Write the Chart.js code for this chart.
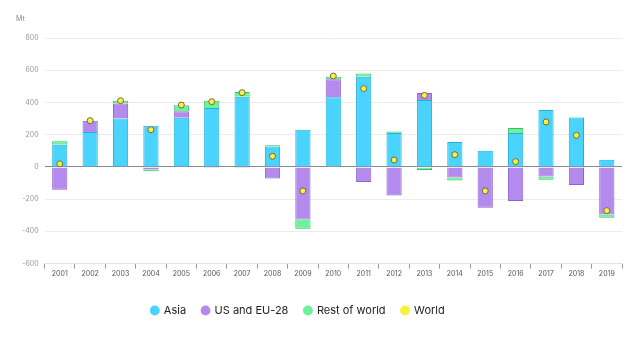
<!DOCTYPE html>
<html>
<head>
<meta charset="utf-8">
<script src="https://cdn.jsdelivr.net/npm/chart.js@4.4.1/dist/chart.umd.min.js"></script>
<style>
  html, body { margin: 0; padding: 0; background: #fff; }
  #wrap { width: 640px; height: 342px; position: relative; }
</style>
</head>
<body>
<div id="wrap"><canvas id="chart"></canvas></div>
<script>
// Annual change in emissions, Mt
const years = ['2001','2002','2003','2004','2005','2006','2007','2008','2009','2010',
               '2011','2012','2013','2014','2015','2016','2017','2018','2019'];
const asia      = [138, 217, 300, 256, 305, 366, 436, 126, 231, 432, 560, 211, 415, 155, 101, 211, 353, 306, 45];
const usEu      = [-141, 70, 93, -15, 40, -6, -6, -72, -327, 112, -93, -178, 44, -66, -254, -211, -60, -112, -296];
const restWorld = [21, 0, 18, -12, 38, 45, 29, 8, -57, 16, 19, 8, -19, -19, 0, 31, -19, 2, -20];
const world     = [19, 287, 411, 231, 384, 405, 461, 66, -149, 564, 486, 43, 444, 76, -149, 33, 279, 196, -271];
const yTicks    = [-600, -400, -200, 0, 200, 400, 600, 800];

// small "Mt" unit label over the y axis
const unitLabel = {
    id: 'unitLabel',
    afterDraw(chart) {
        const ctx = chart.ctx;
        ctx.save();
        ctx.font = '7px Inter, sans-serif';
        ctx.fillStyle = '#888';
        ctx.textBaseline = 'middle';
        ctx.fillText('Mt', 16, 19);
        ctx.restore();
    }
};

// the legend in the original sits a bit left of centre
const legendShift = {
    id: 'legendShift',
    afterLayout(chart) {
        if (chart.legend) {
            chart.legend.left -= 21;
            chart.legend.right -= 21;
        }
    }
};

const ctx = document.getElementById('chart').getContext('2d');
new Chart(ctx, {
    data: {
        labels: years,
        datasets: [
            {
                type: 'bar', label: 'Asia', data: asia, stack: 'regions', order: 2,
                backgroundColor: '#4ad3fd', borderColor: '#1fb2d8', borderWidth: 1,
                barPercentage: 0.5, categoryPercentage: 1
            },
            {
                type: 'bar', label: 'US and EU-28', data: usEu, stack: 'regions', order: 2,
                backgroundColor: '#b48aef', borderColor: '#8c62cf', borderWidth: 1,
                barPercentage: 0.5, categoryPercentage: 1
            },
            {
                type: 'bar', label: 'Rest of world', data: restWorld, stack: 'regions', order: 2,
                backgroundColor: '#6cf39a', borderColor: '#3dbb68', borderWidth: 1,
                barPercentage: 0.5, categoryPercentage: 1
            },
            {
                type: 'line', label: 'World', data: world, stack: 'world', order: 1,
                showLine: false, pointRadius: 3, pointHoverRadius: 3,
                backgroundColor: '#fbf03a', borderColor: '#6b6b55', borderWidth: 1,
                pointStyle: 'circle'
            }
        ]
    },
    options: {
        responsive: true,
        maintainAspectRatio: false,
        animation: false,
        layout: { padding: { left: 16, right: 18, top: 38, bottom: 16 } },
        plugins: {
            legend: {
                position: 'bottom',
                labels: {
                    usePointStyle: true,
                    pointStyle: 'circle',
                    boxWidth: 7,
                    boxHeight: 7,
                    padding: 16,
                    color: '#222',
                    font: { family: 'Inter, sans-serif', size: 11 },
                    sort: (a, b) => a.datasetIndex - b.datasetIndex,
                    generateLabels(chart) {
                        const items = Chart.defaults.plugins.legend.labels.generateLabels(chart);
                        items.forEach(it => { it.strokeStyle = it.fillStyle; it.lineWidth = 0; });
                        return items;
                    }
                }
            },
            tooltip: { enabled: false }
        },
        scales: {
            x: {
                stacked: true,
                afterFit(scale) { scale.height += 10; },
                grid: {
                    offset: true,
                    drawOnChartArea: false,
                    drawTicks: true,
                    tickLength: 5,
                    color: '#999'
                },
                border: { display: true, color: '#dde3ef' },
                ticks: {
                    color: '#555',
                    font: { family: 'Inter, sans-serif', size: 7 },
                    padding: 1,
                    maxRotation: 0
                }
            },
            y: {
                stacked: true,
                min: -600,
                max: 800,
                afterBuildTicks(axis) { axis.ticks = yTicks.map(v => ({ value: v })); },
                grid: {
                    drawTicks: false,
                    color(c) { return c.tick && c.tick.value === 0 ? '#8a8a8a' : '#ececf0'; }
                },
                border: { display: false },
                ticks: {
                    color: '#999',
                    font: { family: 'Inter, sans-serif', size: 7 },
                    padding: 6
                }
            }
        }
    },
    plugins: [unitLabel, legendShift]
});
</script>
</body>
</html>
